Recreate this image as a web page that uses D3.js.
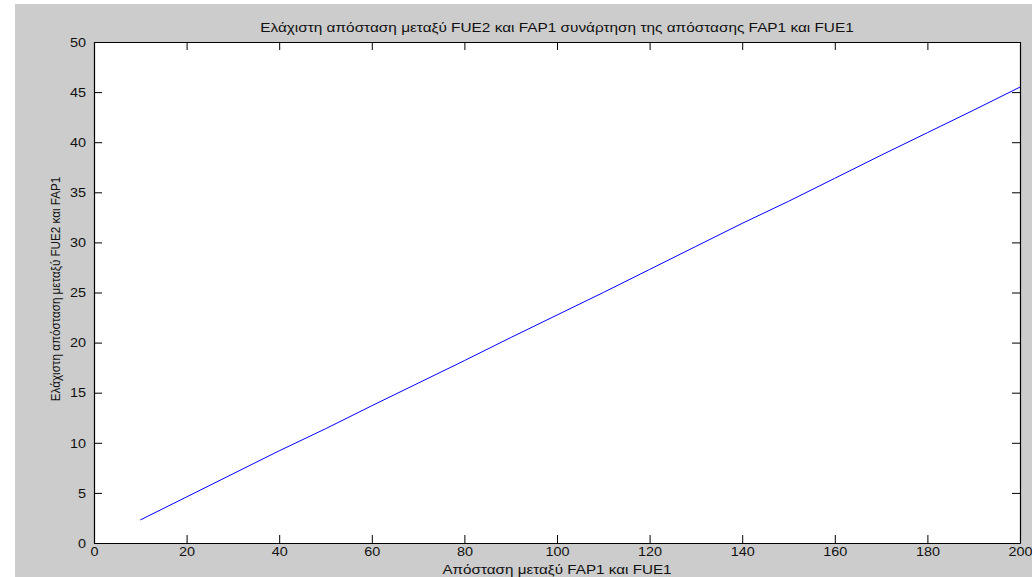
<!DOCTYPE html>
<html>
<head>
<meta charset="utf-8">
<script src="https://cdn.jsdelivr.net/npm/d3@7"></script>
<style>
  body { margin: 0; background: #fff; }
  svg { display: block; }
  text { font-family: "Liberation Sans", Arial, sans-serif; fill: #111; }
</style>
</head>
<body>
<div id="chart"></div>
<script>
// distance FAP1-FUE1 (x) vs min distance FUE2-FAP1 (y)
const distFap1Fue1 = [10, 20, 30, 40, 50, 60, 70, 80, 90, 100, 110, 120, 130, 140, 150, 160, 170, 180, 190, 200];
const minDistFue2Fap1 = [2.3, 4.6, 6.9, 9.2, 11.4, 13.7, 15.95, 18.2, 20.5, 22.75, 25.0, 27.3, 29.6, 31.9, 34.1, 36.4, 38.7, 40.95, 43.2, 45.5];
const xTicks = [0, 20, 40, 60, 80, 100, 120, 140, 160, 180, 200];
const yTicks = [0, 5, 10, 15, 20, 25, 30, 35, 40, 45, 50];

const titleText = "Ελάχιστη απόσταση μεταξύ FUE2 και FAP1 συνάρτηση της απόστασης FAP1 και FUE1";
const xLabel = "Απόσταση μεταξύ FAP1 και FUE1";
const yLabel = "Ελάχιστη απόσταση μεταξύ FUE2 και FAP1";

const W = 1032, H = 577;
const plotL = 94, plotR = 1020, plotT = 42, plotB = 543;

// matlab's font renders wider than liberation, stretch text a bit
function stretch(sel, k) {
    sel.each(function () {
        var len = this.getComputedTextLength();
        d3.select(this)
            .attr("textLength", len * k)
            .attr("lengthAdjust", "spacingAndGlyphs");
    });
}

var svg = d3.select("#chart").append("svg")
    .attr("width", W)
    .attr("height", H);

// gray figure background
svg.append("rect")
    .attr("x", 15).attr("y", 4)
    .attr("width", W - 15).attr("height", H - 4)
    .attr("fill", "#cccccc");

// white axes area
svg.append("rect")
    .attr("x", plotL).attr("y", plotT)
    .attr("width", plotR - plotL).attr("height", plotB - plotT)
    .attr("fill", "#fff");

var x = d3.scaleLinear().domain([0, 200]).range([plotL, plotR]);
var y = d3.scaleLinear().domain([0, 50]).range([plotB, plotT]);

// axes, ticks pointing inward like matlab
var xAxis = svg.append("g")
    .attr("transform", "translate(0," + plotB + ")")
    .call(d3.axisBottom(x).tickValues(xTicks).tickSizeInner(-8).tickSizeOuter(0).tickPadding(6));
var xTop = svg.append("g")
    .attr("transform", "translate(0," + plotT + ")")
    .call(d3.axisTop(x).tickValues(xTicks).tickSizeInner(-8).tickSizeOuter(0).tickFormat(""));
var yAxis = svg.append("g")
    .attr("transform", "translate(" + plotL + ",0)")
    .call(d3.axisLeft(y).tickValues(yTicks).tickSizeInner(-8).tickSizeOuter(0).tickPadding(8));
var yRight = svg.append("g")
    .attr("transform", "translate(" + plotR + ",0)")
    .call(d3.axisRight(y).tickValues(yTicks).tickSizeInner(-8).tickSizeOuter(0).tickFormat(""));

[xAxis, xTop, yAxis, yRight].forEach((g) => {
    g.selectAll("path").attr("stroke", "#000").attr("stroke-width", 1.2);
    g.selectAll("line").attr("stroke", "#000");
    g.selectAll("text")
        .style("font-family", "'Liberation Sans', Arial, sans-serif")
        .style("font-size", "12px")
        .attr("fill", "#111");
});
xAxis.selectAll("text").attr("dy", "0.6em");
yAxis.selectAll("text").attr("dy", "0.35em");
stretch(xAxis.selectAll("text"), 1.2);
stretch(yAxis.selectAll("text"), 1.2);

// data line
var line = d3.line()
    .x((d, i) => x(distFap1Fue1[i]))
    .y((d) => y(d));

svg.append("path")
    .datum(minDistFue2Fap1)
    .attr("d", line)
    .attr("fill", "none")
    .attr("stroke", "#0000ff")
    .attr("stroke-width", 1);

// labels
var title = svg.append("text")
    .attr("x", (plotL + plotR) / 2).attr("y", 32)
    .attr("text-anchor", "middle")
    .style("font-size", "12px")
    .text(titleText);
stretch(title, 1.28);

var xl = svg.append("text")
    .attr("x", (plotL + plotR) / 2).attr("y", 574)
    .attr("text-anchor", "middle")
    .style("font-size", "12px")
    .text(xLabel);
stretch(xl, 1.27);

var yl = svg.append("text")
    .attr("transform", "translate(60,289) rotate(-90)")
    .attr("text-anchor", "middle")
    .style("font-size", "12px")
    .text(yLabel);
stretch(yl, 0.97);
</script>
</body>
</html>
